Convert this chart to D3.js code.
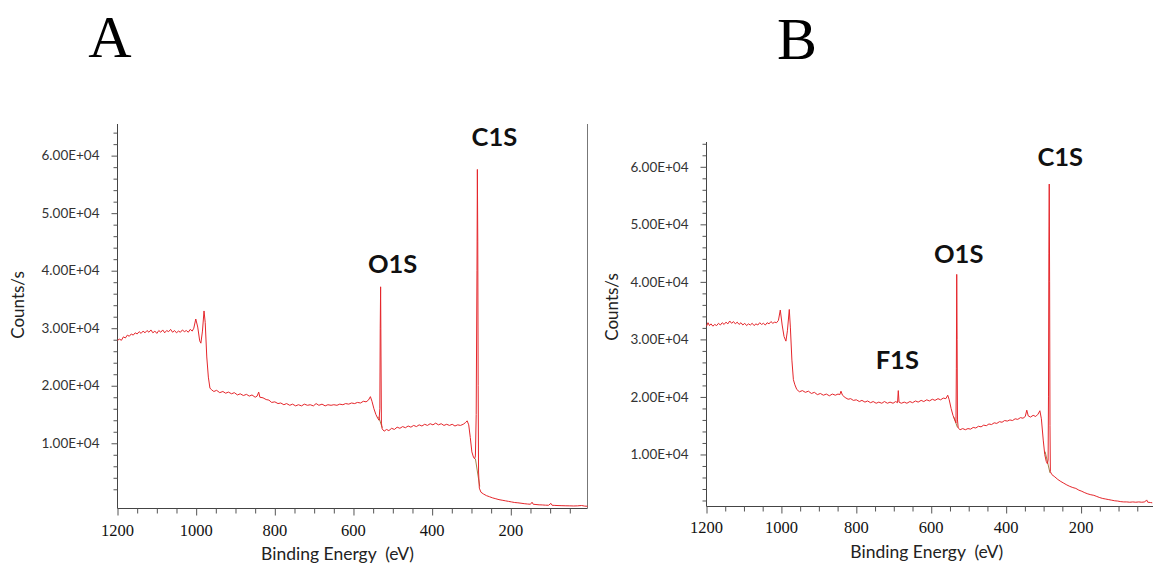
<!DOCTYPE html>
<html><head><meta charset="utf-8">
<script src="https://cdn.jsdelivr.net/npm/d3@7"></script>
<style>
html,body{margin:0;padding:0;background:#fff;}
svg{display:block;}
</style></head>
<body>
<svg id="chart" width="1153" height="568"></svg>
<script>
// ---------- DATA ----------
const panelNames = ["A", "B"];
const xTickValues = [1200, 1000, 800, 600, 400, 200];
const yTickValues = [10000, 20000, 30000, 40000, 50000, 60000];
const yTickLabels = ["1.00E+04", "2.00E+04", "3.00E+04", "4.00E+04", "5.00E+04", "6.00E+04"];
const xTitle = "Binding Energy  (eV)";
const yTitle = "Counts/s";

// Panel A spectrum: [binding energy eV, counts/s]
const spectrumA = [
[1200,27900],[1195,28100],[1190,27900],[1185,28500],[1180,28300],[1175,28800],[1170,28600],[1165,29000],
[1160,28800],[1155,29200],[1150,29000],[1145,29400],[1140,29100],[1135,29500],[1130,29200],[1125,29600],
[1120,29300],[1115,29700],[1110,29200],[1105,29500],[1100,29100],[1095,29600],[1090,29300],[1085,29700],
[1080,29200],[1075,29600],[1070,29400],[1065,29800],[1060,29300],[1055,29600],[1050,29200],[1045,29500],
[1040,29300],[1035,29700],[1030,29400],[1025,29600],[1020,29300],[1015,29800],[1010,29500],[1006,30000],
[1001,31600],[996,30200],[991,27800],[988,27400],[984,29500],[980,33000],[977,31000],[973,25000],
[969,21500],[965,19600],[961,19300],[955,19000],[948,19200],[940,18800],[932,19000],[925,18700],
[918,18900],[910,18600],[903,18800],[895,18400],[888,18600],[880,18300],[872,18500],[865,18200],
[858,18400],[850,18000],[845,18200],[841,18900],[838,18000],[830,17900],[822,17600],[815,17500],
[808,17100],[800,17200],[792,16900],[785,17000],[777,16700],[770,16900],[762,16600],[755,16800],
[747,16500],[740,16700],[732,16500],[725,16800],[717,16600],[710,16700],[702,16500],[695,16900],
[688,16600],[680,16800],[672,16500],[665,16700],[657,16600],[650,16700],[642,16600],[635,16800],
[627,16700],[620,16900],[612,16800],[605,17000],[597,16900],[590,17100],[582,17000],[575,17300],
[568,17200],[562,17500],[557,18100],[553,17300],[548,16000],[543,15000],[538,14300],[535,14000],
[533,16000],[532,30000],[531,37200],[530,25000],[529,13500],[527,12500],[522,12100],[516,12400],
[510,12200],[503,12600],[496,12400],[489,12800],[482,12600],[475,12900],[468,12700],[461,13000],
[454,12800],[447,13100],[440,12900],[433,13200],[426,13000],[419,13300],[412,13100],[405,13400],
[398,13200],[391,13500],[384,13200],[377,13400],[370,13100],[363,13300],[356,13100],[349,13300],
[342,13000],[335,13200],[328,13100],[321,13300],[315,13600],[311,13900],[307,13200],[303,11000],
[299,8500],[295,7600],[292,7300],[290,7800],[288,15000],[286,40000],[285,57600],[284,45000],
[283,20000],[282,5000],[280,2200],[276,1500],[270,1200],[262,900],[254,700],[246,500],
[238,350],[230,200],[222,100],[214,0],[206,-100],[198,-200],[190,-300],[182,-350],
[174,-420],[166,-500],[158,-560],[150,-600],[146,-250],[143,-600],[136,-650],[128,-700],
[120,-720],[112,-760],[104,-780],[98,-450],[95,-780],[88,-800],[80,-830],[70,-850],
[60,-870],[50,-880],[40,-900],[30,-880],[20,-820],[12,-920],[5,-950]
];

// Panel B spectrum: [binding energy eV, counts/s]
const spectrumB = [
[1200,32300],[1196,32900],[1192,32400],[1188,32700],[1183,32300],[1178,32600],[1173,32400],[1168,32800],
[1163,32500],[1158,32900],[1153,32600],[1148,33000],[1143,32700],[1138,33200],[1133,32800],[1128,33100],
[1123,32700],[1118,33000],[1113,32600],[1108,32900],[1103,32500],[1098,32800],[1093,32400],[1088,32700],
[1083,32500],[1078,32800],[1073,32400],[1068,32700],[1063,32500],[1058,32900],[1053,32600],[1048,32800],
[1043,32500],[1038,32900],[1033,32700],[1028,33100],[1023,32800],[1018,33000],[1013,32900],[1008,33300],
[1003,35100],[998,32500],[993,30500],[988,29700],[984,31500],[979,35200],[976,32000],[972,26400],
[968,23000],[964,22100],[959,21300],[952,20900],[944,21100],[936,20800],[928,21000],[920,20600],
[912,20800],[904,20400],[896,20600],[888,20300],[880,20500],[872,20200],[864,20500],[856,20300],
[849,20500],[844,20400],[841,21000],[837,20300],[830,19900],[822,19600],[815,19700],[808,19400],
[800,19500],[792,19200],[785,19400],[777,19100],[770,19300],[762,19000],[755,19200],[747,18900],
[740,19100],[732,18900],[725,19200],[717,18900],[710,19100],[702,18900],[695,19200],[690,19000],
[688,21100],[686,19100],[680,18900],[672,19100],[665,18900],[657,19200],[650,19000],[642,19300],
[635,19100],[627,19400],[620,19200],[612,19500],[605,19300],[597,19600],[590,19400],[582,19700],
[575,19500],[568,19800],[561,19700],[556,20300],[552,19500],[547,18000],[542,16800],[537,16000],
[534,15500],[533,25000],[532,41300],[531,30000],[530,16000],[528,14600],[523,14300],[516,14500],
[509,14300],[502,14500],[495,14400],[488,14700],[481,14600],[474,14900],[467,14800],[460,15100],
[453,15000],[446,15300],[439,15200],[432,15500],[425,15400],[418,15700],[411,15600],[404,15900],
[397,15800],[390,16000],[383,15900],[376,16200],[369,16100],[362,16400],[355,16300],[349,16600],
[345,17700],[341,16700],[335,16500],[328,16800],[321,16600],[315,17000],[310,17600],[306,16200],
[301,12500],[297,10000],[293,8800],[290,8400],[288,9000],[287,20000],[286,45000],[285,57000],
[284,40000],[283,15000],[282,7000],[278,6500],[270,6100],[262,5650],[254,5300],[246,5000],
[238,4700],[230,4450],[222,4250],[214,4100],[206,3800],[198,3600],[190,3350],[182,3150],
[174,3000],[166,2900],[158,2700],[150,2500],[142,2350],[134,2250],[126,2150],[118,2050],
[110,1950],[102,1900],[94,1800],[86,1750],[78,1750],[70,1700],[62,1750],[54,1700],
[46,1750],[38,1700],[30,1750],[25,2100],[22,1700],[15,1650],[10,1600]
];

// Background (baseline) segments drawn under the peaks
const backgroundA = [[[536,14600],[527,12700]], [[290,7300],[279,2500]]];
const backgroundB = [[[540,16500],[530,14700]], [[296,10500],[283,6800]]];

// Peak annotations: [label, eV of peak, counts at top]
const peaksA = [["O1S", 531, 37200], ["C1S", 285, 57600]];
const peaksB = [["F1S", 688, 21100], ["O1S", 532, 41300], ["C1S", 285, 57000]];

// ---------- DRAW ----------
const svg = d3.select("#chart");
const sans = "Lato, 'Open Sans', sans-serif";
const serif = "'Liberation Serif', 'Times New Roman', serif";

function panel(cfg) {
  const g = svg.append("g");
  const x = d3.scaleLinear().domain(cfg.xDomain).range([cfg.left, cfg.right]);
  const y = d3.scaleLinear().domain(cfg.yDomain).range([cfg.bottom, cfg.top]);

  // y axis: minor ticks every 2000, major with labels
  const yMinor = d3.range(2000, cfg.yDomain[1], 2000).filter(v => v > cfg.yDomain[0]);
  const yAxis = d3.axisLeft(y).tickValues(yMinor).tickSize(4).tickFormat("");
  const ya = g.append("g").attr("transform", `translate(${cfg.left},0)`).call(yAxis);
  ya.select(".domain").attr("d", `M0,${cfg.top}V${cfg.bottom}`).attr("stroke", "#444");
  ya.selectAll(".tick line").attr("stroke", "#555")
    .attr("x2", d => yTickValues.includes(d) ? -6 : -4);
  const yl = g.append("g");
  yl.selectAll("text").data(yTickValues).join("text")
    .attr("x", cfg.left - 18).attr("y", d => y(d)).attr("dy", "0.35em")
    .attr("text-anchor", "end").attr("font-family", sans).attr("font-size", 13.5)
    .attr("fill", "#333").text((d, i) => yTickLabels[i]);

  // x axis: minor every 50 eV, major every 200
  const xMinor = d3.range(1200, cfg.xDomain[1], -50);
  const xAxis = d3.axisBottom(x).tickValues(xMinor).tickSize(5).tickFormat("");
  const xa = g.append("g").attr("transform", `translate(0,${cfg.bottom})`).call(xAxis);
  xa.select(".domain").attr("d", `M${cfg.left},0H${cfg.right}`).attr("stroke", "#444");
  xa.selectAll(".tick line").attr("stroke", "#555")
    .attr("y2", d => xTickValues.includes(d) ? 7 : 5);
  g.append("g").selectAll("text").data(xTickValues).join("text")
    .attr("x", d => x(d)).attr("y", cfg.bottom + cfg.xLabelDy)
    .attr("text-anchor", "middle").attr("font-family", serif).attr("font-size", 16.5)
    .attr("fill", "#111").text(d => d);

  if (cfg.rightBorder) {
    g.append("line").attr("x1", cfg.right).attr("x2", cfg.right)
      .attr("y1", cfg.top).attr("y2", cfg.bottom).attr("stroke", "#777");
  }

  // titles
  g.append("text").attr("x", (cfg.left + cfg.right) / 2 + cfg.xTitleDx).attr("y", cfg.bottom + 51)
    .attr("text-anchor", "middle").attr("font-family", sans).attr("font-size", 17.5)
    .attr("fill", "#222").style("white-space", "pre").text(xTitle);
  g.append("text").attr("transform", `translate(${cfg.yTitleX},${cfg.yTitleY}) rotate(-90)`)
    .attr("text-anchor", "middle").attr("dy", "0.35em").attr("font-family", sans)
    .attr("font-size", 17).attr("fill", "#222").text(yTitle);

  // background lines
  const line = d3.line().x(d => x(d[0])).y(d => y(d[1]));
  cfg.bg.forEach(seg => g.append("path").attr("d", line(seg)).attr("fill", "none")
    .attr("stroke", "#a0844a").attr("stroke-width", 1));
  // spectrum
  g.append("path").datum(cfg.data).attr("d", line).attr("fill", "none")
    .attr("stroke", "#e5262b").attr("stroke-width", 1).attr("stroke-linejoin", "round");

  // peak labels
  cfg.peaks.forEach((p, i) => {
    g.append("text").attr("x", x(p[1]) + cfg.peakDx[i]).attr("y", y(p[2]) + cfg.peakDy[i])
      .attr("text-anchor", "middle").attr("font-family", sans).attr("font-weight", "bold")
      .attr("font-size", 25.5).attr("fill", "#111").text(p[0]);
  });

  // panel letter
  svg.append("text").attr("x", cfg.letterX).attr("y", cfg.letterY)
    .attr("text-anchor", "middle").attr("font-family", serif).attr("font-size", 60)
    .attr("fill", "#000").text(cfg.name);
}

panel({
  name: panelNames[0], data: spectrumA, bg: backgroundA, peaks: peaksA,
  xDomain: [1200, 5], yDomain: [-1340, 65500],
  left: 117.5, right: 587.5, top: 124, bottom: 508.5,
  rightBorder: true, xLabelDy: 27.5, xTitleDx: -15,
  yTitleX: 18, yTitleY: 305,
  peakDx: [12, 17], peakDy: [-14, -23],
  letterX: 110, letterY: 57
});
panel({
  name: panelNames[1], data: spectrumB, bg: backgroundB, peaks: peaksB,
  xDomain: [1200, 8], yDomain: [957, 64310],
  left: 706.5, right: 1153, top: 142, bottom: 506.5,
  rightBorder: false, xLabelDy: 26, xTitleDx: -3,
  yTitleX: 612, yTitleY: 307,
  peakDx: [-1, 2, 11], peakDy: [-22, -11.5, -18],
  letterX: 797, letterY: 59
});
</script>
</body></html>
